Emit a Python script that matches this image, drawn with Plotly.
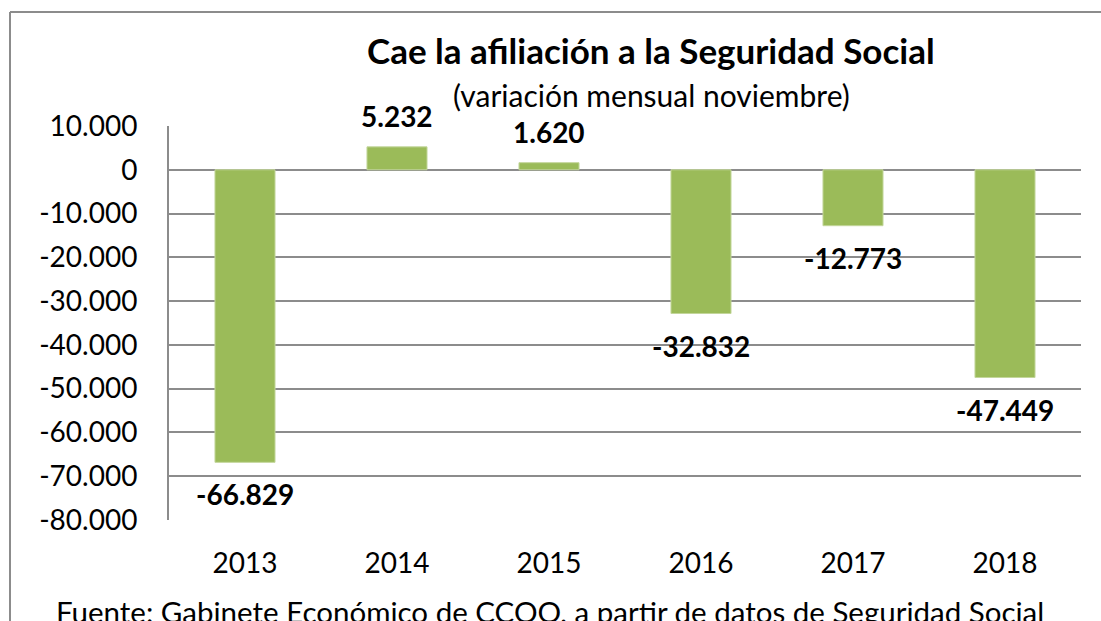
import plotly.graph_objects as go

years = ["2013", "2014", "2015", "2016", "2017", "2018"]
values = [-66829, 5232, 1620, -32832, -12773, -47449]
tick_vals = [10000, 0, -10000, -20000, -30000, -40000, -50000, -60000, -70000, -80000]
tick_text = ["10.000", "0", "-10.000", "-20.000", "-30.000", "-40.000",
             "-50.000", "-60.000", "-70.000", "-80.000"]
title = "Cae la afiliación a la Seguridad Social"
subtitle = "(variación mensual noviembre)"
source = "Fuente: Gabinete Económico de CCOO, a partir de datos de Seguridad Social"

W, H = 1101, 621
# pixel positions of the plot area
PL, PR, PT, PB = 169, 1081, 126, 520
L, R, T, B = PL, W - PR, PT, H - PB
pw, ph = PR - PL, PB - PT

def px_x(px):
    return (px - PL) / pw

def px_y(py):
    return (PB - py) / ph

def fmt(v):
    s = f"{abs(v):,}".replace(",", ".")
    return ("-" if v < 0 else "") + s

FONT = "Lato"
grid = "#8c8c8c"

fig = go.Figure()
fig.add_trace(go.Bar(
    x=years, y=values,
    marker=dict(color="#9BBB59", line=dict(color="#c3d69b", width=1)),
    width=0.395,
))

annotations = []
for i, v in enumerate(values):
    # category axis: annotation x given as the category index of years[i]
    annotations.append(dict(
        x=i, y=v, xref="x", yref="y", text=fmt(v), showarrow=False,
        yshift=(31 if v > 0 else -32), yanchor="middle",
        font=dict(family=FONT, size=28, color="black", weight="bold"),
    ))

annotations += [
    dict(x=px_x(651), y=px_y(50), xref="paper", yref="paper", text=title,
         showarrow=False, xanchor="center", yanchor="middle",
         font=dict(family=FONT, size=35, color="black", weight="bold")),
    dict(x=px_x(651), y=px_y(95), xref="paper", yref="paper", text=subtitle,
         showarrow=False, xanchor="center", yanchor="middle",
         font=dict(family=FONT, size=30, color="black")),
    dict(x=px_x(550), y=px_y(611), xref="paper", yref="paper", text=source,
         showarrow=False, xanchor="center", yanchor="middle",
         font=dict(family=FONT, size=29.5, color="black")),
]

fig.update_layout(
    width=W, height=H,
    margin=dict(l=L, r=R, t=T, b=B, pad=0),
    paper_bgcolor="white", plot_bgcolor="white",
    showlegend=False,
    font=dict(family=FONT, size=28, color="black"),
    annotations=annotations,
    shapes=[
        dict(type="line", xref="paper", yref="paper",
             x0=px_x(10), x1=px_x(1120), y0=px_y(12), y1=px_y(12),
             line=dict(color="#8c8c8c", width=2), layer="below"),
        dict(type="line", xref="paper", yref="paper",
             x0=px_x(10), x1=px_x(10), y0=px_y(12), y1=px_y(660),
             line=dict(color="#8c8c8c", width=2), layer="below"),
    ],
)
fig.update_yaxes(
    range=[-80000, 10000], tickvals=tick_vals, ticktext=tick_text,
    showgrid=True, gridcolor=grid, gridwidth=2,
    zeroline=True, zerolinecolor=grid, zerolinewidth=2,
    showline=True, linecolor=grid, linewidth=2,
    ticks="", ticklabelstandoff=24,
    tickfont=dict(family=FONT, size=28, color="black"),
)
fig.update_xaxes(
    type="category", categoryorder="array", categoryarray=years,
    range=[-0.5, len(years) - 0.5], autorange=False,
    showgrid=False, showline=False, zeroline=False, ticks="",
    ticklabelstandoff=24,
    tickfont=dict(family=FONT, size=28, color="black"),
)

fig.write_html(
    "out.html",
    config={"displayModeBar": False},
    post_script="document.body.style.margin='0';"
                "document.documentElement.style.overflow='hidden';",
)
